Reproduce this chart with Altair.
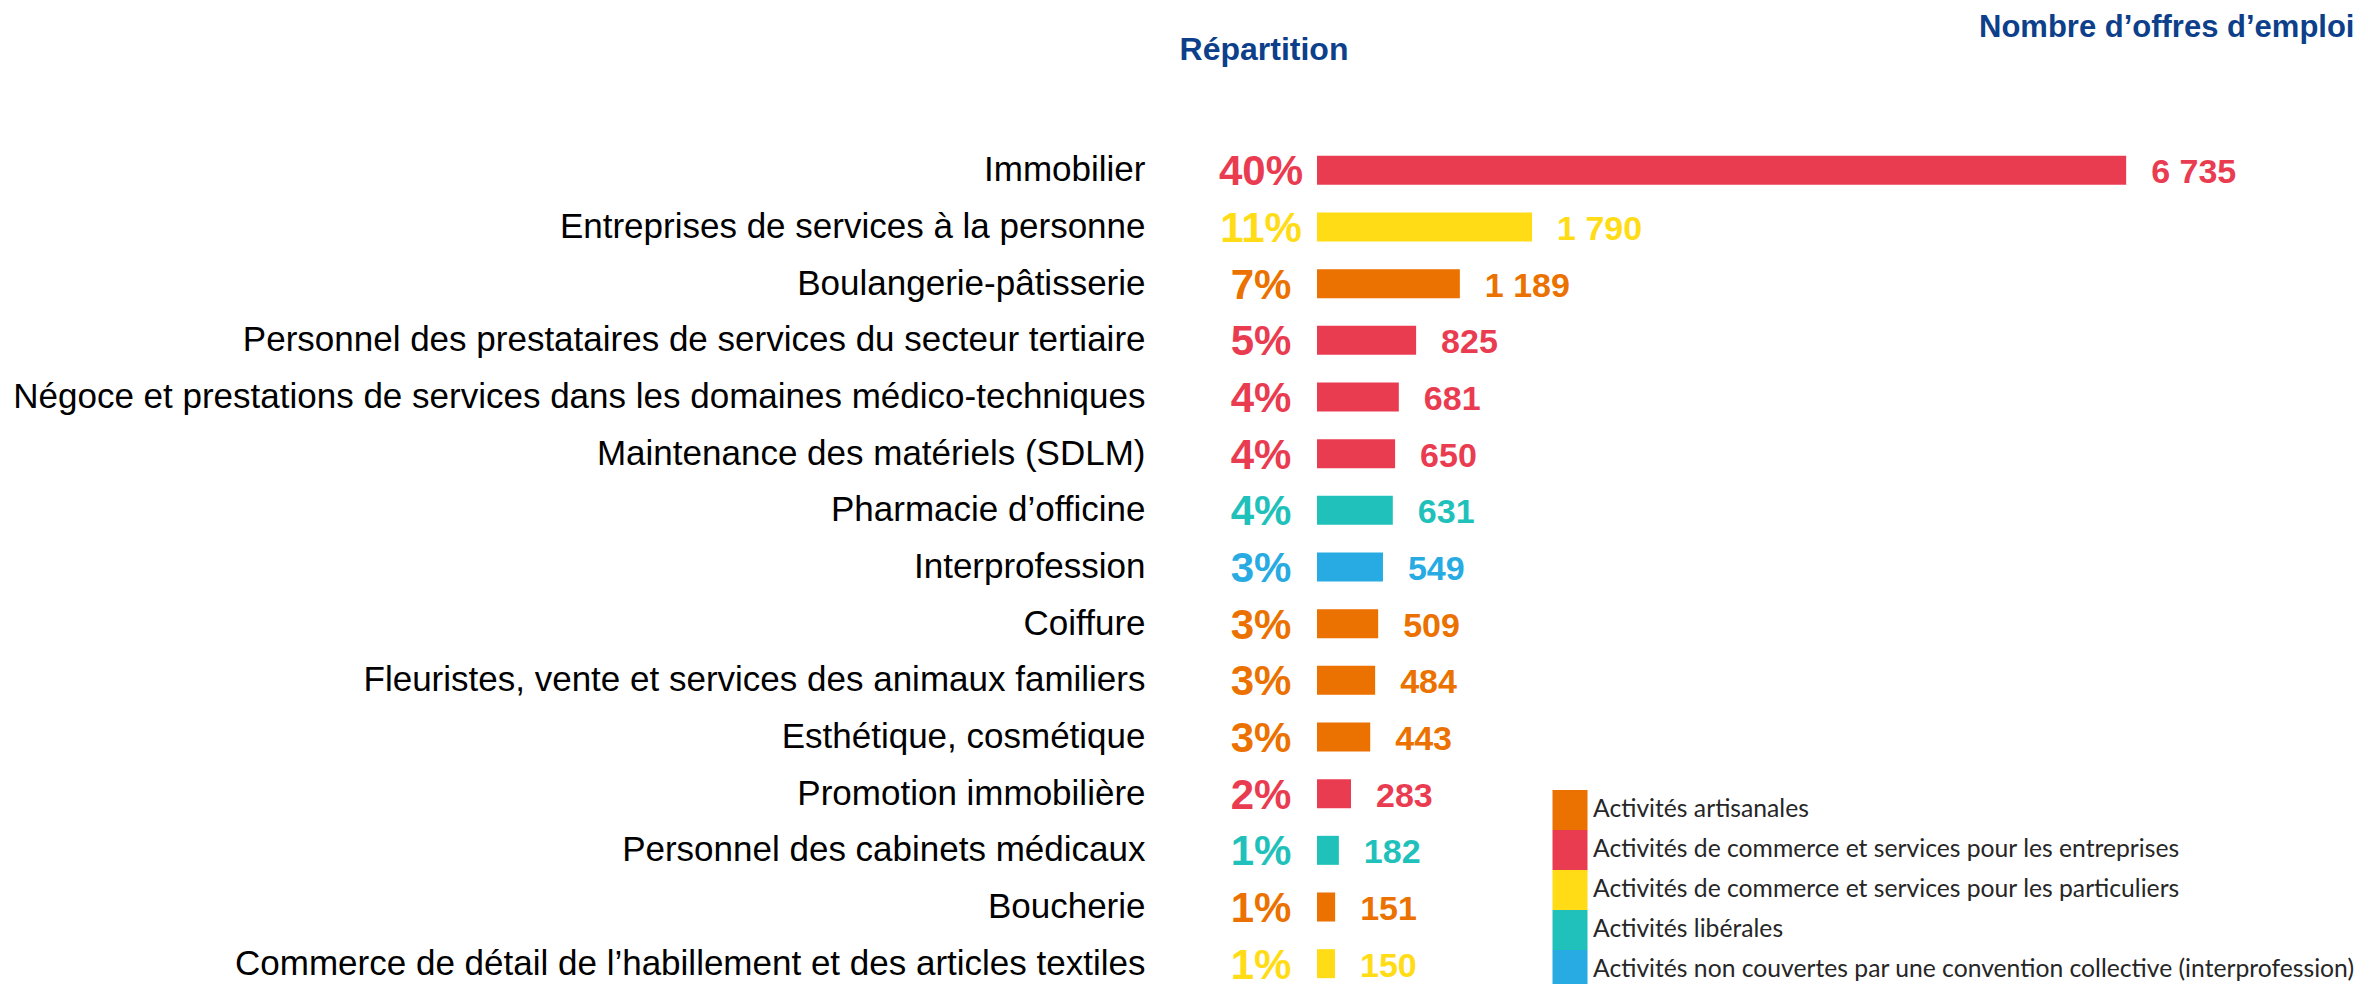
import altair as alt
import pandas as pd

categories = [
    "Immobilier",
    "Entreprises de services à la personne",
    "Boulangerie-pâtisserie",
    "Personnel des prestataires de services du secteur tertiaire",
    "Négoce et prestations de services dans les domaines médico-techniques",
    "Maintenance des matériels (SDLM)",
    "Pharmacie d’officine",
    "Interprofession",
    "Coiffure",
    "Fleuristes, vente et services des animaux familiers",
    "Esthétique, cosmétique",
    "Promotion immobilière",
    "Personnel des cabinets médicaux",
    "Boucherie",
    "Commerce de détail de l’habillement et des articles textiles",
]
offers = [6735, 1790, 1189, 825, 681, 650, 631, 549, 509, 484, 443, 283, 182, 151, 150]
shares = ["40%", "11%", "7%", "5%", "4%", "4%", "4%", "3%", "3%", "3%", "3%", "2%", "1%", "1%", "1%"]

group_names = [
    "Activités artisanales",
    "Activités de commerce et services pour les entreprises",
    "Activités de commerce et services pour les particuliers",
    "Activités libérales",
    "Activités non couvertes par une convention collective (interprofession)",
]
group_colors = ["#EB7100", "#EA3C51", "#FFDC16", "#21C1BB", "#27ABE2"]
# group index of each category
category_group = [1, 2, 0, 1, 1, 1, 3, 4, 0, 0, 0, 1, 3, 0, 2]

df = pd.DataFrame({
    "categorie": categories,
    "offres": offers,
    "part": shares,
    "groupe": [group_names[g] for g in category_group],
    "libelle": [f"{v:,}".replace(",", "\u00a0") for v in offers],
})

y_enc = alt.Y(
    "categorie:N",
    sort=categories,
    scale=alt.Scale(paddingInner=0.488, paddingOuter=0.244),
    axis=alt.Axis(
        title=None, domain=False, ticks=False, labelPadding=172,
        labelFont="Liberation Sans", labelFontSize=35, labelColor="#000000",
        labelLimit=2000,
    ),
)
color_scale = alt.Scale(domain=group_names, range=group_colors)

base = alt.Chart(df)

bars = base.mark_bar(cornerRadius=0).encode(
    x=alt.X("offres:Q", scale=alt.Scale(domain=[0, 7000], nice=False), axis=None),
    y=y_enc,
    color=alt.Color(
        "groupe:N", scale=color_scale,
        legend=alt.Legend(
            title=None, orient="none", legendX=233, legendY=648,
            symbolType="M-0.875,-1H0.875V1H-0.875Z", symbolSize=1600,
            symbolStrokeWidth=0, symbolOpacity=1, rowPadding=0, padding=0,
            labelFont="Lato", labelFontSize=24.7, labelColor="#262626",
            labelOffset=3, labelLimit=2000,
        ),
    ),
)

values_txt = base.mark_text(
    align="left", baseline="middle", dx=25, dy=3,
    font="Liberation Sans", fontSize=34, fontWeight="bold",
).encode(
    x=alt.X("offres:Q"),
    y=alt.Y("categorie:N", sort=categories),
    text="libelle:N",
    color=alt.Color("groupe:N", scale=color_scale, legend=None),
)

pct_txt = base.mark_text(
    align="center", baseline="middle", dy=2,
    font="Liberation Sans", fontSize=42, fontWeight="bold",
).encode(
    x=alt.value(-56),
    y=alt.Y("categorie:N", sort=categories),
    text="part:N",
    color=alt.Color("groupe:N", scale=color_scale, legend=None),
)

title1 = alt.Chart(pd.DataFrame({"t": ["Répartition"]})).mark_text(
    align="center", baseline="middle", font="Liberation Sans",
    fontSize=32, fontWeight="bold", color="#0D3F8A",
).encode(text="t:N", x=alt.value(-53), y=alt.value(-92))

title2 = alt.Chart(pd.DataFrame({"t": ["Nombre d’offres d’emploi"]})).mark_text(
    align="left", baseline="middle", font="Liberation Sans",
    fontSize=31, fontWeight="bold", color="#0D3F8A",
).encode(text="t:N", x=alt.value(662), y=alt.value(-114))

chart = alt.layer(bars, values_txt, pct_txt, title1, title2).properties(
    width=841, height=850,
    autosize=alt.AutoSizeParams(type="none"),
    padding={"left": 1309, "top": 134, "right": 208, "bottom": 60},
).configure(background="#ffffff").configure_view(stroke=None)

chart.save("out.html", embed_options={"renderer": "svg", "actions": False})
